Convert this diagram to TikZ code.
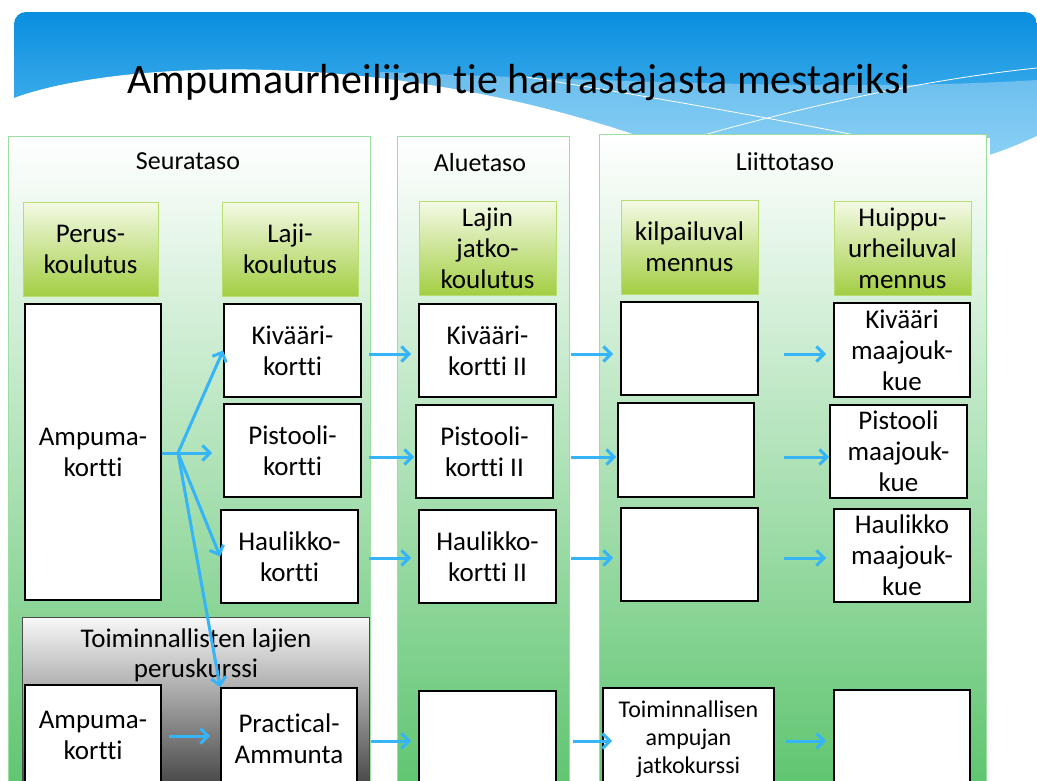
\documentclass[tikz,border=0pt]{standalone}
\usepackage{fontspec}
\setmainfont[Ligatures=NoCommon]{Carlito}
\usetikzlibrary{arrows.meta,calc}
\definecolor{bannerTop}{HTML}{0A8EDF}
\definecolor{bannerBot}{HTML}{5ABEF2}
\definecolor{panelBot}{HTML}{5CC46D}
\definecolor{panelBorder}{HTML}{9ADF9F}
\definecolor{hdrTop}{HTML}{F4FAE6}
\definecolor{hdrBot}{HTML}{A3CE42}
\definecolor{hdrBorder}{HTML}{B9DD6E}
\definecolor{arrowblue}{HTML}{35B4F7}
\definecolor{grayBot}{HTML}{454545}
\begin{document}
\begin{tikzpicture}[x=1pt,y=-1pt,
  panel/.style={draw=panelBorder, line width=1.3pt, top color=white, bottom color=panelBot,
    minimum width=#1, minimum height=664pt, inner sep=0pt, anchor=north west},
  hdr/.style={draw=hdrBorder, line width=1pt, top color=hdrTop, bottom color=hdrBot,
    minimum width=136pt, minimum height=94pt, inner sep=0pt, align=center,
    font=\fontsize{27pt}{31pt}\selectfont},
  wbox/.style={draw=black, line width=1.8pt, fill=white, inner sep=0pt, align=center,
    minimum width=136pt, minimum height=93pt, font=\fontsize{27pt}{31pt}\selectfont},
  ptitle/.style={anchor=base, inner sep=0pt, font=\fontsize{26pt}{31pt}\selectfont},
  arr/.style={draw=arrowblue, line width=3pt, -{Straight Barb[length=7.5pt,width=15pt]}},
  wline/.style={draw=white, line width=0.8pt}
]
\useasboundingbox (0,0) rectangle (1037,780);
\clip (0,0) rectangle (1037,780);
\fill[white] (0,0) rectangle (1037,780);

% banner
\path[top color=bannerTop, bottom color=bannerBot, rounded corners=12pt]
  (14,160) -- (14,12) -- (1037,12) [sharp corners] -- (1037,160) -- cycle;
\fill[white, opacity=0.3] (380,72) .. controls (600,80) and (850,92) .. (1037,80)
  -- (1037,160) -- (380,160) -- cycle;
\fill[white] (0,98) -- (14,98) .. controls (110,62) and (380,45) .. (650,140)
  -- (650,161) -- (0,161) -- cycle;
\fill[white] (600,138) -- (990,138) -- (990,161) -- (600,161) -- cycle;
\fill[white] (986,156) .. controls (1000,152) and (1020,144) .. (1037,136) -- (1037,161) -- (986,161) -- cycle;
\draw[wline] (520,76) .. controls (640,95) and (760,116) .. (860,136);
\draw[wline] (700,136) .. controls (800,108) and (920,80) .. (1037,68);

\node[anchor=base, inner sep=0pt, font=\fontsize{42pt}{50pt}\selectfont] (title) at (519,93)
  {Ampumaurheilijan tie harrastajasta mestariksi};

% panels
\node[panel=362pt] (seura) at (8,136) {};
\node[panel=172pt] (alue) at (397,136) {};
\node[panel=387pt] (liitto) at (599,134) {};
\node[ptitle] (seuraT) at (188,169) {Seurataso};
\node[ptitle] (alueT) at (480,171) {Aluetaso};
\node[ptitle] (liittoT) at (785,170) {Liittotaso};

% header boxes
\node[hdr, minimum width=135pt] (perus) at (90.5,249) {Perus-\\koulutus};
\node[hdr] (lajik) at (290,249) {Laji-\\koulutus};
\node[hdr, minimum width=137pt] (lajinj) at (487.5,248.5) {Lajin\\jatko-\\koulutus};
\node[hdr, minimum width=137pt] (kilp) at (689.5,247) {kilpailuval\\mennus};
\node[hdr, minimum width=137pt] (huippu) at (902.5,248) {Huippu-\\urheiluval\\mennus};

% gray box
\node[draw=black!70, line width=1pt, top color=white!97!black, bottom color=grayBot,
  minimum width=347pt, minimum height=170pt, anchor=north west, inner sep=0pt] (gray) at (22,617) {};
\node[inner sep=0pt, align=center, font=\fontsize{27pt}{30pt}\selectfont] (grayT) at (196,655)
  {Toiminnallisten lajien\\peruskurssi};

% white boxes: Seurataso
\node[wbox, minimum height=296pt] (amp1) at (93,452) {Ampuma-\\kortti};
\node[wbox, minimum width=137pt] (kiv) at (292.5,350.5) {Kivääri-\\kortti};
\node[wbox, minimum width=137pt] (pist) at (292.5,450.5) {Pistooli-\\kortti};
\node[wbox, minimum width=137pt] (haul) at (289.5,556.5) {Haulikko-\\kortti};
\node[wbox, minimum height=100pt] (amp2) at (93,735) {Ampuma-\\kortti};
\node[wbox, minimum height=102pt] (prac) at (289,739) {Practical-\\Ammunta};

% Aluetaso
\node[wbox, minimum width=137pt] (kiv2) at (487.5,350.5) {Kivääri-\\kortti II};
\node[wbox, minimum width=137pt] (pist2) at (484.5,451.5) {Pistooli-\\kortti II};
\node[wbox, minimum width=137pt] (haul2) at (487.5,556.5) {Haulikko-\\kortti II};
\node[wbox, minimum width=137pt, minimum height=99pt] (al4) at (487.5,740.5) {};

% Liittotaso
\node[wbox, minimum width=137pt] (l1) at (689.5,348.5) {};
\node[wbox, minimum height=94pt] (l2) at (686,450) {};
\node[wbox, minimum width=137pt] (l3) at (689.5,554.5) {};
\node[wbox, minimum height=94pt] (h1) at (902,350) {Kivääri\\maajouk-\\kue};
\node[wbox, minimum width=137pt] (h2) at (898.5,451.5) {Pistooli\\maajouk-\\kue};
\node[wbox] (h3) at (902,555.5) {Haulikko\\maajouk-\\kue};
\node[wbox, minimum width=171pt, minimum height=102pt, font=\fontsize{24pt}{28pt}\selectfont] (toim) at (688.5,739)
  {Toiminnallisen\\ampujan\\jatkokurssi};
\node[wbox, minimum height=100pt] (h4) at (902,740) {};

% row coordinates
\coordinate (jn) at (178,453);
\coordinate (r1) at (0,354);
\coordinate (r2) at (0,457);
\coordinate (r3) at (0,558);
\coordinate (r4) at (0,741);
\coordinate (r5) at (0,736);

% arrows Seurataso
\draw[arr, shorten >=11pt] (amp1.east |- jn) -- (pist.west |- jn);
\draw[arr] (jn) -- (kiv.west);
\draw[arr] (jn) -- (haul.west);
\draw[arr] (jn) -- (prac.north west);
\draw[arr, shorten <=7pt, shorten >=10pt] (amp2.east |- r5) -- (prac.west |- r5);

% arrows to Aluetaso
\draw[arr, shorten <=7pt, shorten >=7pt] (kiv.east |- r1) -- (kiv2.west |- r1);
\draw[arr, shorten <=7pt, shorten >=1pt] (pist.east |- r2) -- (pist2.west |- r2);
\draw[arr, shorten <=10pt, shorten >=7pt] (haul.east |- r3) -- (haul2.west |- r3);
\draw[arr, shorten <=13pt, shorten >=7pt] (prac.east |- r4) -- (al4.west |- r4);

% arrows to Liittotaso
\draw[arr, shorten <=14pt, shorten >=7pt] (kiv2.east |- r1) -- (l1.west |- r1);
\draw[arr, shorten <=17pt, shorten >=1pt] (pist2.east |- r2) -- (l2.west |- r2);
\draw[arr, shorten <=14pt, shorten >=7pt] (haul2.east |- r3) -- (l3.west |- r3);
\draw[arr, shorten <=16pt, shorten >=-10pt] (al4.east |- r4) -- (toim.west |- r4);

% arrows inside Liittotaso
\draw[arr, shorten <=25pt, shorten >=7pt] (l1.east |- r1) -- (h1.west |- r1);
\draw[arr, shorten <=29pt, shorten >=0pt] (l2.east |- r2) -- (h2.west |- r2);
\draw[arr, shorten <=25pt, shorten >=7pt] (l3.east |- r3) -- (h3.west |- r3);
\draw[arr, shorten <=11pt, shorten >=7pt] (toim.east |- r4) -- (h4.west |- r4);
\end{tikzpicture}
\end{document}
